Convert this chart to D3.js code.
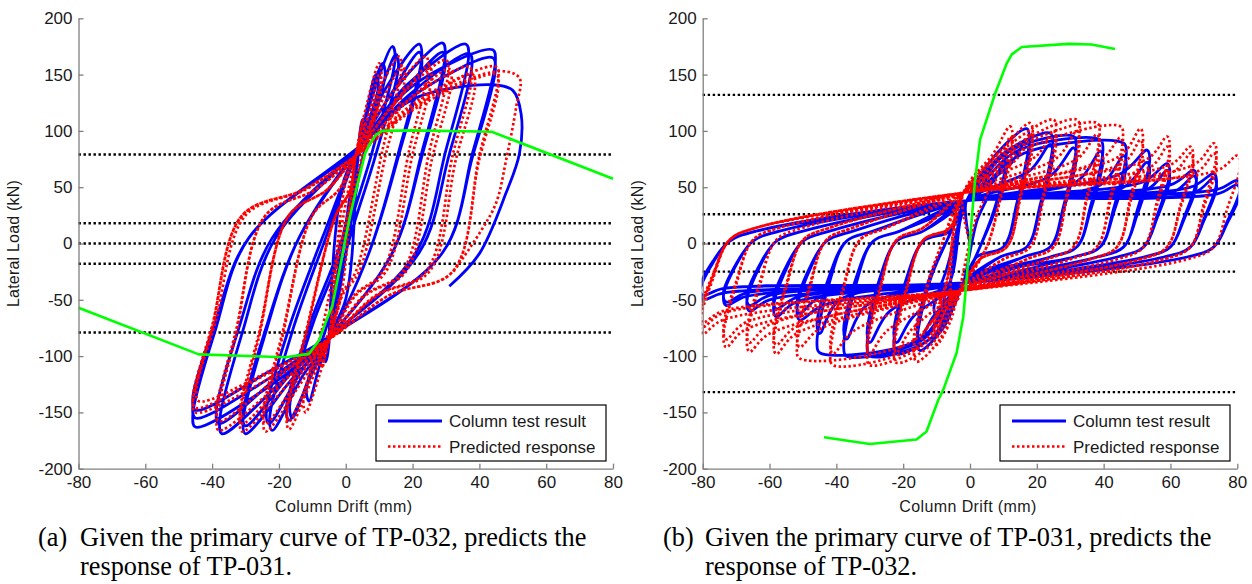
<!DOCTYPE html>
<html><head><meta charset="utf-8">
<script src="https://cdn.jsdelivr.net/npm/d3@7"></script>
<style>body{margin:0;background:#fff}svg{display:block}</style>
</head><body>
<svg width="1252" height="584"></svg>
<script>
// axis ticks
var xTicks = [-80, -60, -40, -20, 0, 20, 40, 60, 80];
var yTicks = [-200, -150, -100, -50, 0, 50, 100, 150, 200];

// dotted reference levels (kN)
var levelsA = [79, 18, 0, -18, -79];
var levelsB = [132, 26, 0, -25, -132];

// primary curves (green), [drift mm, load kN]
var primaryA = [[-80,-57],[-44,-98.5],[-18,-101],[-11,-98],[-8,-86],[-6,-70],[-4,-55],[-1.7,-21],[-0.2,3],[1.5,27],[3.3,50],[5.8,80],[7.5,90],[9.2,97],[11,100],[20,100.5],[43.7,99.3],[80,57.5]];
var primaryB = [[-43.7,-172],[-30,-178],[-16,-174],[-13,-167],[-9.5,-139],[-8,-130],[-4,-97],[-2,-65],[0,3],[1.5,56],[3,92],[7.5,133],[11,160],[12.5,168],[15.5,174.5],[29.4,177.3],[36.4,176.7],[43.4,172.7]];

// cycles: [+peak drift, +peak load, +knee drift, +knee load, -peak drift, -peak load, -knee drift, -knee load]
var testA = [
  [5,110,4,90,6,105,5,88],[9,150,6,115,11,140,8,110],[11,160,7,125,16,155,10,112],
  [14,175,9,140,17,157,10,115],[15,168,10,132,22,166,13,118],[22,177,12,138,23,160,13,112],
  [22,170,13,130,30,169,16,120],[29,178,15,138,30,162,16,114],[29,170,16,130,37,169,19,122],
  [36,177,18,140,38,160,19,115],[37,169,19,132,45,163,22,125],[44,172,20,140,45,155,22,118],
  [44,165,21,133,45,148,22,112]
];
var testTailA = [[20,128],[44,141],[50,136],[52.5,115],[52,80],[48,45],[40,-9],[31,-38]];

var predA = [
  [5,110,4,92,7,110,6,95],[10,160,6,120,12,150,8,118],[10,150,7,115,17,165,10,120],
  [16,166,9,130,17,158,10,115],[17,158,10,122,24,167,13,122],[24,166,13,130,24,160,13,115],
  [25,158,14,122,31,167,17,124],[30,163,16,130,31,160,17,118],[31,155,17,122,38,166,20,125],
  [37,157,19,128,38,158,20,118],[38,150,20,120,45,150,23,120],[45,157,22,128,45,146,23,115],
  [45,150,22,122,44,140,22,112]
];
var predTailA = [[22,125],[46,153],[52,147],[51,121],[48,74],[45,36],[40,9],[32,-26]];

var testB = [
  [5,55,3,45,5,50,3,40],[10,80,6,65,8,70,5,55],[10,72,7,55,10,65,7,50],
  [17,102,8,80,15,95,8,75],[17,92,12,70,15,85,11,65],[24,98,10,80,22,98,10,80],
  [24,88,18,65,22,88,17,65],[31,95,12,82,30,100,12,85],[31,85,24,60,30,88,24,60],
  [39,92,14,82,37,100,14,85],[39,82,32,55,37,85,31,55],[46,89,16,80,45,97,15,85],
  [46,78,39,52,45,80,39,50],[53,83,45,62,51,68,44,55],[53,72,46,50,51,62,45,48],
  [59,71,52,55,58,65,52,52],[59,65,53,48,58,58,52,48],[67,65,60,52,66,60,60,50],
  [67,60,61,46,66,55,60,46],[73,62,66,50,73,55,67,47],[73,58,67,45,73,52,67,44],
  [80,56,74,48,80,50,74,44],[80,52,74,44,80,46,74,40]
];
var predB = [
  [5,60,3,50,5,55,3,45],[12,104,7,80,10,90,6,70],[12,95,9,70,10,82,8,62],
  [18,107,10,85,16,105,9,85],[18,98,14,75,16,95,13,75],[25,110,12,88,22,106,11,88],
  [25,100,20,78,22,97,18,78],[32,110,14,88,30,108,13,88],[32,100,26,76,30,98,25,78],
  [38,107,16,88,41,108,15,90],[38,97,32,75,41,98,35,78],[45,104,18,86,51,102,18,88],
  [45,94,39,74,51,92,45,76],[51,102,45,78,58,98,52,80],[51,92,46,72,58,90,52,74],
  [59,95,53,75,66,96,60,80],[59,86,54,68,66,88,60,72],[66,86,60,70,73,92,67,76],
  [66,80,61,64,73,85,67,70],[73,89,67,70,80,80,74,68],[73,80,68,64,80,74,74,62],
  [80,78,74,65,80,70,74,60]
];

// loop shapes: pinch points and unloading branches
var shapeTestA = {up: [4, 86], lo: [-5, -83],
  pos: function(A, P) { return [[A + 0.8, P - 10], [A - 6, P * 0.47], [A - 15, -8]]; },
  neg: function(B, Q) { return [[-B - 0.8, -Q + 10], [-B + 6, -Q * 0.47], [-B + 16, 5]]; }};
var shapePredA = {up: [3, 78], lo: [-5, -85],
  pos: function(A, P) { return [[A + 0.7, P - 10], [A - 5, P * 0.5], [A - 13, -25], [(A - 13) / 2 - 3, -46]]; },
  neg: function(B, Q) { return [[-B - 0.7, -Q + 10], [-B + 5, -Q * 0.5], [-B + 14, 25], [(-B + 14) / 2 + 3, 48]]; }};
var shapeTestB = {up: [-1, 38], lo: [-2, -35],
  pos: function(A, P) { return [[A + 0.8, P - 8], [A - 3, P * 0.35], [A - 7, -3], [A - 15, -12]]; },
  neg: function(B, Q) { return [[-B - 0.8, -Q + 8], [-B + 3, -Q * 0.35], [-B + 8, 2], [-B + 16, 11]]; }};
var shapePredB = {up: [-2, 45], lo: [-3, -42],
  pos: function(A, P) { return [[A + 0.8, P - 10], [A - 3, P * 0.4], [A - 7, -3], [A - 15, -14]]; },
  neg: function(B, Q) { return [[-B - 0.8, -Q + 10], [-B + 3, -Q * 0.4], [-B + 8, 3], [-B + 16, 14]]; }};

function buildPath(cycles, s, tail) {
  var pts = [[0, 0]];
  cycles.forEach(function(c) {
    pts.push(s.up, [c[2], c[3]], [c[0], c[1]]);
    s.pos(c[0], c[1]).forEach(function(p) { if (p[0] > s.lo[0] + 1) pts.push(p); });
    pts.push(s.lo, [-c[6], -c[7]], [-c[4], -c[5]]);
    s.neg(c[4], c[5]).forEach(function(p) { if (p[0] < s.up[0] - 1) pts.push(p); });
  });
  pts.push(s.up);
  if (tail) pts = pts.concat(tail);
  return pts;
}

var svg = d3.select("svg");
var font = "'Liberation Sans', Arial, sans-serif";

function panel(o) {
  var x = d3.scaleLinear().domain([-80, 80]).range([o.x0, o.x1]);
  var y = d3.scaleLinear().domain([-200, 200]).range([468.7, 18.3]);
  var g = svg.append("g");

  g.append("clipPath").attr("id", o.id)
    .append("rect").attr("x", o.x0 - 1).attr("y", 18).attr("width", o.x1 - o.x0 + 2).attr("height", 451);

  var plot = g.append("g").attr("clip-path", "url(#" + o.id + ")");

  // dotted levels
  plot.selectAll(".lev").data(o.levels).enter().append("line")
    .attr("x1", x(-80)).attr("x2", x(80))
    .attr("y1", function(d) { return y(d); }).attr("y2", function(d) { return y(d); })
    .style("stroke", "#000").style("stroke-width", 2.4).style("stroke-dasharray", "2.4,2.6");

  var line = d3.line().x(function(d) { return x(d[0]); }).y(function(d) { return y(d[1]); })
    .curve(d3.curveCatmullRom.alpha(0.5));

  plot.append("path").datum(buildPath(o.test, o.shapeT, o.testTail))
    .attr("d", line).style("fill", "none").style("stroke", "#0000ff").style("stroke-width", 2.8)
    .style("stroke-linejoin", "round");
  plot.append("path").datum(buildPath(o.pred, o.shapeP, o.predTail))
    .attr("d", line).style("fill", "none").style("stroke", "#ff0000").style("stroke-width", 2.7)
    .style("stroke-dasharray", "2.5,2.5");

  var gline = d3.line().x(function(d) { return x(d[0]); }).y(function(d) { return y(d[1]); });
  plot.append("path").datum(o.primary).attr("d", gline)
    .style("fill", "none").style("stroke", "#00ff00").style("stroke-width", 2.6)
    .style("stroke-linejoin", "round");

  // axes, ticks pointing inward
  var fmt = function(d) { return String(d); };
  var ax = g.append("g").attr("transform", "translate(0,468.7)")
    .call(d3.axisBottom(x).tickValues(xTicks).tickFormat(fmt).tickSizeInner(-5).tickSizeOuter(0).tickPadding(7));
  var ay = g.append("g").attr("transform", "translate(" + o.x0 + ",0)")
    .call(d3.axisLeft(y).tickValues(yTicks).tickFormat(fmt).tickSizeInner(-5).tickSizeOuter(0).tickPadding(6));
  [ax, ay].forEach(function(a) {
    a.select(".domain").style("stroke", "#7f7f7f").style("stroke-width", 1.3);
    a.selectAll(".tick line").style("stroke", "#7f7f7f").style("stroke-width", 1.3);
    a.selectAll("text").style("font-family", font).style("font-size", "17px").style("fill", "#1a1a1a");
  });

  g.append("text").attr("x", (o.x0 + o.x1) / 2 - 2).attr("y", 512)
    .attr("text-anchor", "middle").style("font-family", font).style("font-size", "16px")
    .style("letter-spacing", "0.4px").style("fill", "#1a1a1a").text("Column Drift (mm)");
  g.append("text").attr("transform", "translate(" + (o.x0 - 60) + ",243.5) rotate(-90)")
    .attr("text-anchor", "middle").style("font-family", font).style("font-size", "16px")
    .style("letter-spacing", "0.2px").style("fill", "#1a1a1a").text("Lateral Load (kN)");

  // legend
  var lg = g.append("g").attr("transform", "translate(" + o.legendX + ",405)");
  lg.append("rect").attr("width", 230).attr("height", 56)
    .style("fill", "#fff").style("stroke", "#000").style("stroke-width", 1.2);
  lg.append("line").attr("x1", 12).attr("x2", 66).attr("y1", 16).attr("y2", 16)
    .style("stroke", "#0000ff").style("stroke-width", 2.8);
  lg.append("line").attr("x1", 12).attr("x2", 66).attr("y1", 41.5).attr("y2", 41.5)
    .style("stroke", "#ff0000").style("stroke-width", 2.7).style("stroke-dasharray", "2.5,2.5");
  lg.selectAll(".lt").data(["Column test result", "Predicted response"]).enter().append("text")
    .attr("x", 73).attr("y", function(d, i) { return 22 + i * 25.5; })
    .style("font-family", font).style("font-size", "17px").style("fill", "#1a1a1a")
    .text(function(d) { return d; });

  // caption
  var cap = g.append("g").style("font-family", "'Liberation Serif', 'Times New Roman', serif")
    .style("font-size", "26.3px").style("fill", "#000");
  cap.append("text").attr("x", o.capX).attr("y", 546).text(o.tag);
  cap.append("text").attr("x", o.capX2).attr("y", 546).text(o.cap1);
  cap.append("text").attr("x", o.capX2).attr("y", 575).text(o.cap2);
}

panel({id: "clipA", x0: 78.5, x1: 613, levels: levelsA, primary: primaryA,
  test: testA, pred: predA, testTail: testTailA, predTail: predTailA,
  shapeT: shapeTestA, shapeP: shapePredA, legendX: 376,
  capX: 38, capX2: 80, tag: "(a)",
  cap1: "Given the primary curve of TP-032, predicts the", cap2: "response of TP-031."});

panel({id: "clipB", x0: 702.7, x1: 1237.3, levels: levelsB, primary: primaryB,
  test: testB, pred: predB, testTail: null, predTail: null,
  shapeT: shapeTestB, shapeP: shapePredB, legendX: 1000,
  capX: 663, capX2: 705, tag: "(b)",
  cap1: "Given the primary curve of TP-031, predicts the", cap2: "response of TP-032."});
</script>
</body></html>
